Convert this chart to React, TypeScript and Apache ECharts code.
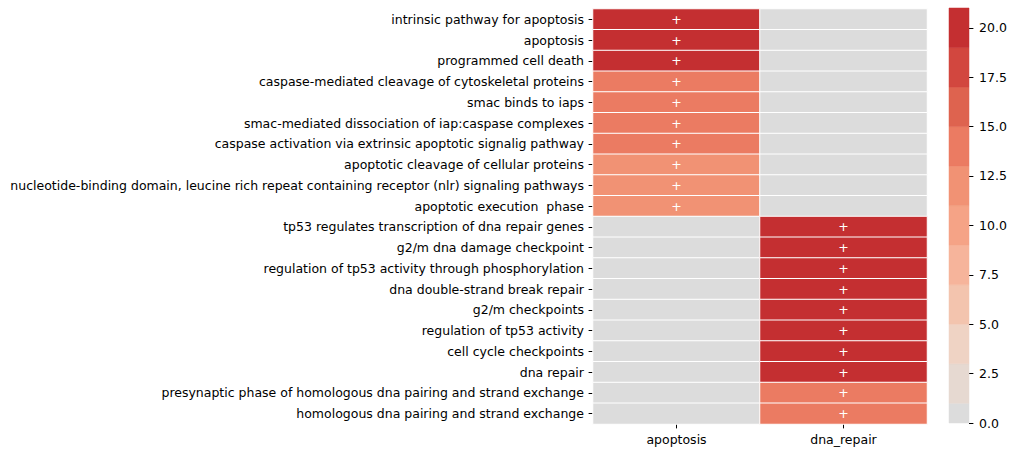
import React, { useEffect, useRef } from "react";
import * as echarts from "echarts";

// Pathway terms, top to bottom
const pathways = [
  "intrinsic pathway for apoptosis",
  "apoptosis",
  "programmed cell death",
  "caspase-mediated cleavage of cytoskeletal proteins",
  "smac binds to iaps",
  "smac-mediated dissociation of iap:caspase complexes",
  "caspase activation via extrinsic apoptotic signalig pathway",
  "apoptotic cleavage of cellular proteins",
  "nucleotide-binding domain, leucine rich repeat containing receptor (nlr) signaling pathways",
  "apoptotic execution  phase",
  "tp53 regulates transcription of dna repair genes",
  "g2/m dna damage checkpoint",
  "regulation of tp53 activity through phosphorylation",
  "dna double-strand break repair",
  "g2/m checkpoints",
  "regulation of tp53 activity",
  "cell cycle checkpoints",
  "dna repair",
  "presynaptic phase of homologous dna pairing and strand exchange",
  "homologous dna pairing and strand exchange",
];

const groups = ["apoptosis", "dna_repair"];

// Enrichment scores per pathway for each group
const apoptosisScores = [20, 20, 20, 14, 14, 14, 14, 12, 12, 12, 0, 0, 0, 0, 0, 0, 0, 0, 0, 0];
const dnaRepairScores = [0, 0, 0, 0, 0, 0, 0, 0, 0, 0, 20, 20, 20, 20, 20, 20, 20, 20, 14, 14];

// Discrete colour bins (upper half of a diverging map centred on 0)
const binEdges = [0, 1, 3, 5, 7, 9, 11, 13, 15, 17, 19, 21];
const binColors = [
  "#dcdcdc",
  "#e6d9d1",
  "#efd3c4",
  "#f3c4ae",
  "#f6b49b",
  "#f5a386",
  "#f19274",
  "#eb7b62",
  "#de634f",
  "#d2473f",
  "#c42f31",
];
const colorbarTicks = [0, 2.5, 5, 7.5, 10, 12.5, 15, 17.5, 20];

const FONT = "DejaVu Sans";
const FS = 12.5;

export default function App() {
  const ref = useRef<HTMLDivElement>(null);

  useEffect(() => {
    if (!ref.current) return;
    const chart = echarts.init(ref.current, null, { renderer: "svg" });

    const cells: number[][] = [];
    [apoptosisScores, dnaRepairScores].forEach((scores, gi) => {
      scores.forEach((v, ri) => cells.push([gi, ri, v]));
    });

    const pieces = binColors.map((c, i) => {
      const p: any = { gte: binEdges[i], color: c };
      if (i < binColors.length - 1) p.lt = binEdges[i + 1];
      else p.lte = binEdges[i + 1];
      return p;
    });

    const binData = binColors.map((_, i) => [0, binEdges[i], binEdges[i + 1]]);

    chart.setOption({
      animation: false,
      backgroundColor: "#ffffff",
      textStyle: { fontFamily: FONT },
      grid: [
        { left: 593, top: 9, width: 334, height: 415 },
        { left: 949, top: 8, width: 20, height: 415 },
      ],
      xAxis: [
        {
          type: "category",
          gridIndex: 0,
          data: groups,
          position: "bottom",
          axisLine: { show: false },
          axisTick: { show: true, alignWithLabel: true, length: 4.4, lineStyle: { color: "#000" } },
          axisLabel: { color: "#000", fontSize: FS, fontFamily: FONT, margin: 9 },
          splitLine: { show: false },
        },
        {
          type: "category",
          gridIndex: 1,
          data: ["scale"],
          show: false,
        },
      ],
      yAxis: [
        {
          type: "category",
          gridIndex: 0,
          data: pathways,
          inverse: true,
          axisLine: { show: false },
          axisTick: { show: true, alignWithLabel: true, length: 4.4, lineStyle: { color: "#000" } },
          axisLabel: { color: "#000", fontSize: FS, fontFamily: FONT, margin: 9, interval: 0 },
          splitLine: { show: false },
        },
        {
          type: "value",
          gridIndex: 1,
          position: "right",
          min: 0,
          max: 21,
          axisLine: { show: false },
          axisTick: {
            show: true,
            length: 4.4,
            lineStyle: { color: "#000" },
            customValues: colorbarTicks,
          },
          axisLabel: {
            color: "#000",
            fontSize: FS,
            fontFamily: FONT,
            margin: 10,
            customValues: colorbarTicks,
            formatter: (v: number) => v.toFixed(1),
          },
          splitLine: { show: false },
        },
      ],
      visualMap: {
        type: "piecewise",
        show: false,
        seriesIndex: 0,
        dimension: 2,
        pieces,
      },
      series: [
        {
          type: "heatmap",
          xAxisIndex: 0,
          yAxisIndex: 0,
          data: cells,
          itemStyle: { borderColor: "#ffffff", borderWidth: 1 },
          label: {
            show: true,
            color: "#ffffff",
            fontSize: FS,
            fontFamily: FONT,
            formatter: (p: any) => (p.value[2] > 0 ? "+" : ""),
          },
          emphasis: { disabled: true },
        },
        {
          type: "custom",
          xAxisIndex: 1,
          yAxisIndex: 1,
          data: binData,
          encode: { x: 0, y: [1, 2] },
          renderItem: (params: any, api: any) => {
            const cs = params.coordSys;
            const lo = api.coord([0, api.value(1)]);
            const hi = api.coord([0, api.value(2)]);
            return {
              type: "rect",
              shape: { x: cs.x, y: hi[1], width: cs.width, height: lo[1] - hi[1] },
              style: { fill: binColors[params.dataIndex], stroke: binColors[params.dataIndex], lineWidth: 0.5 },
            };
          },
        },
      ],
    });

    return () => chart.dispose();
  }, []);

  return (
    <div
      ref={ref}
      style={{ position: "fixed", left: 0, top: 0, width: 1015, height: 455 }}
    />
  );
}
